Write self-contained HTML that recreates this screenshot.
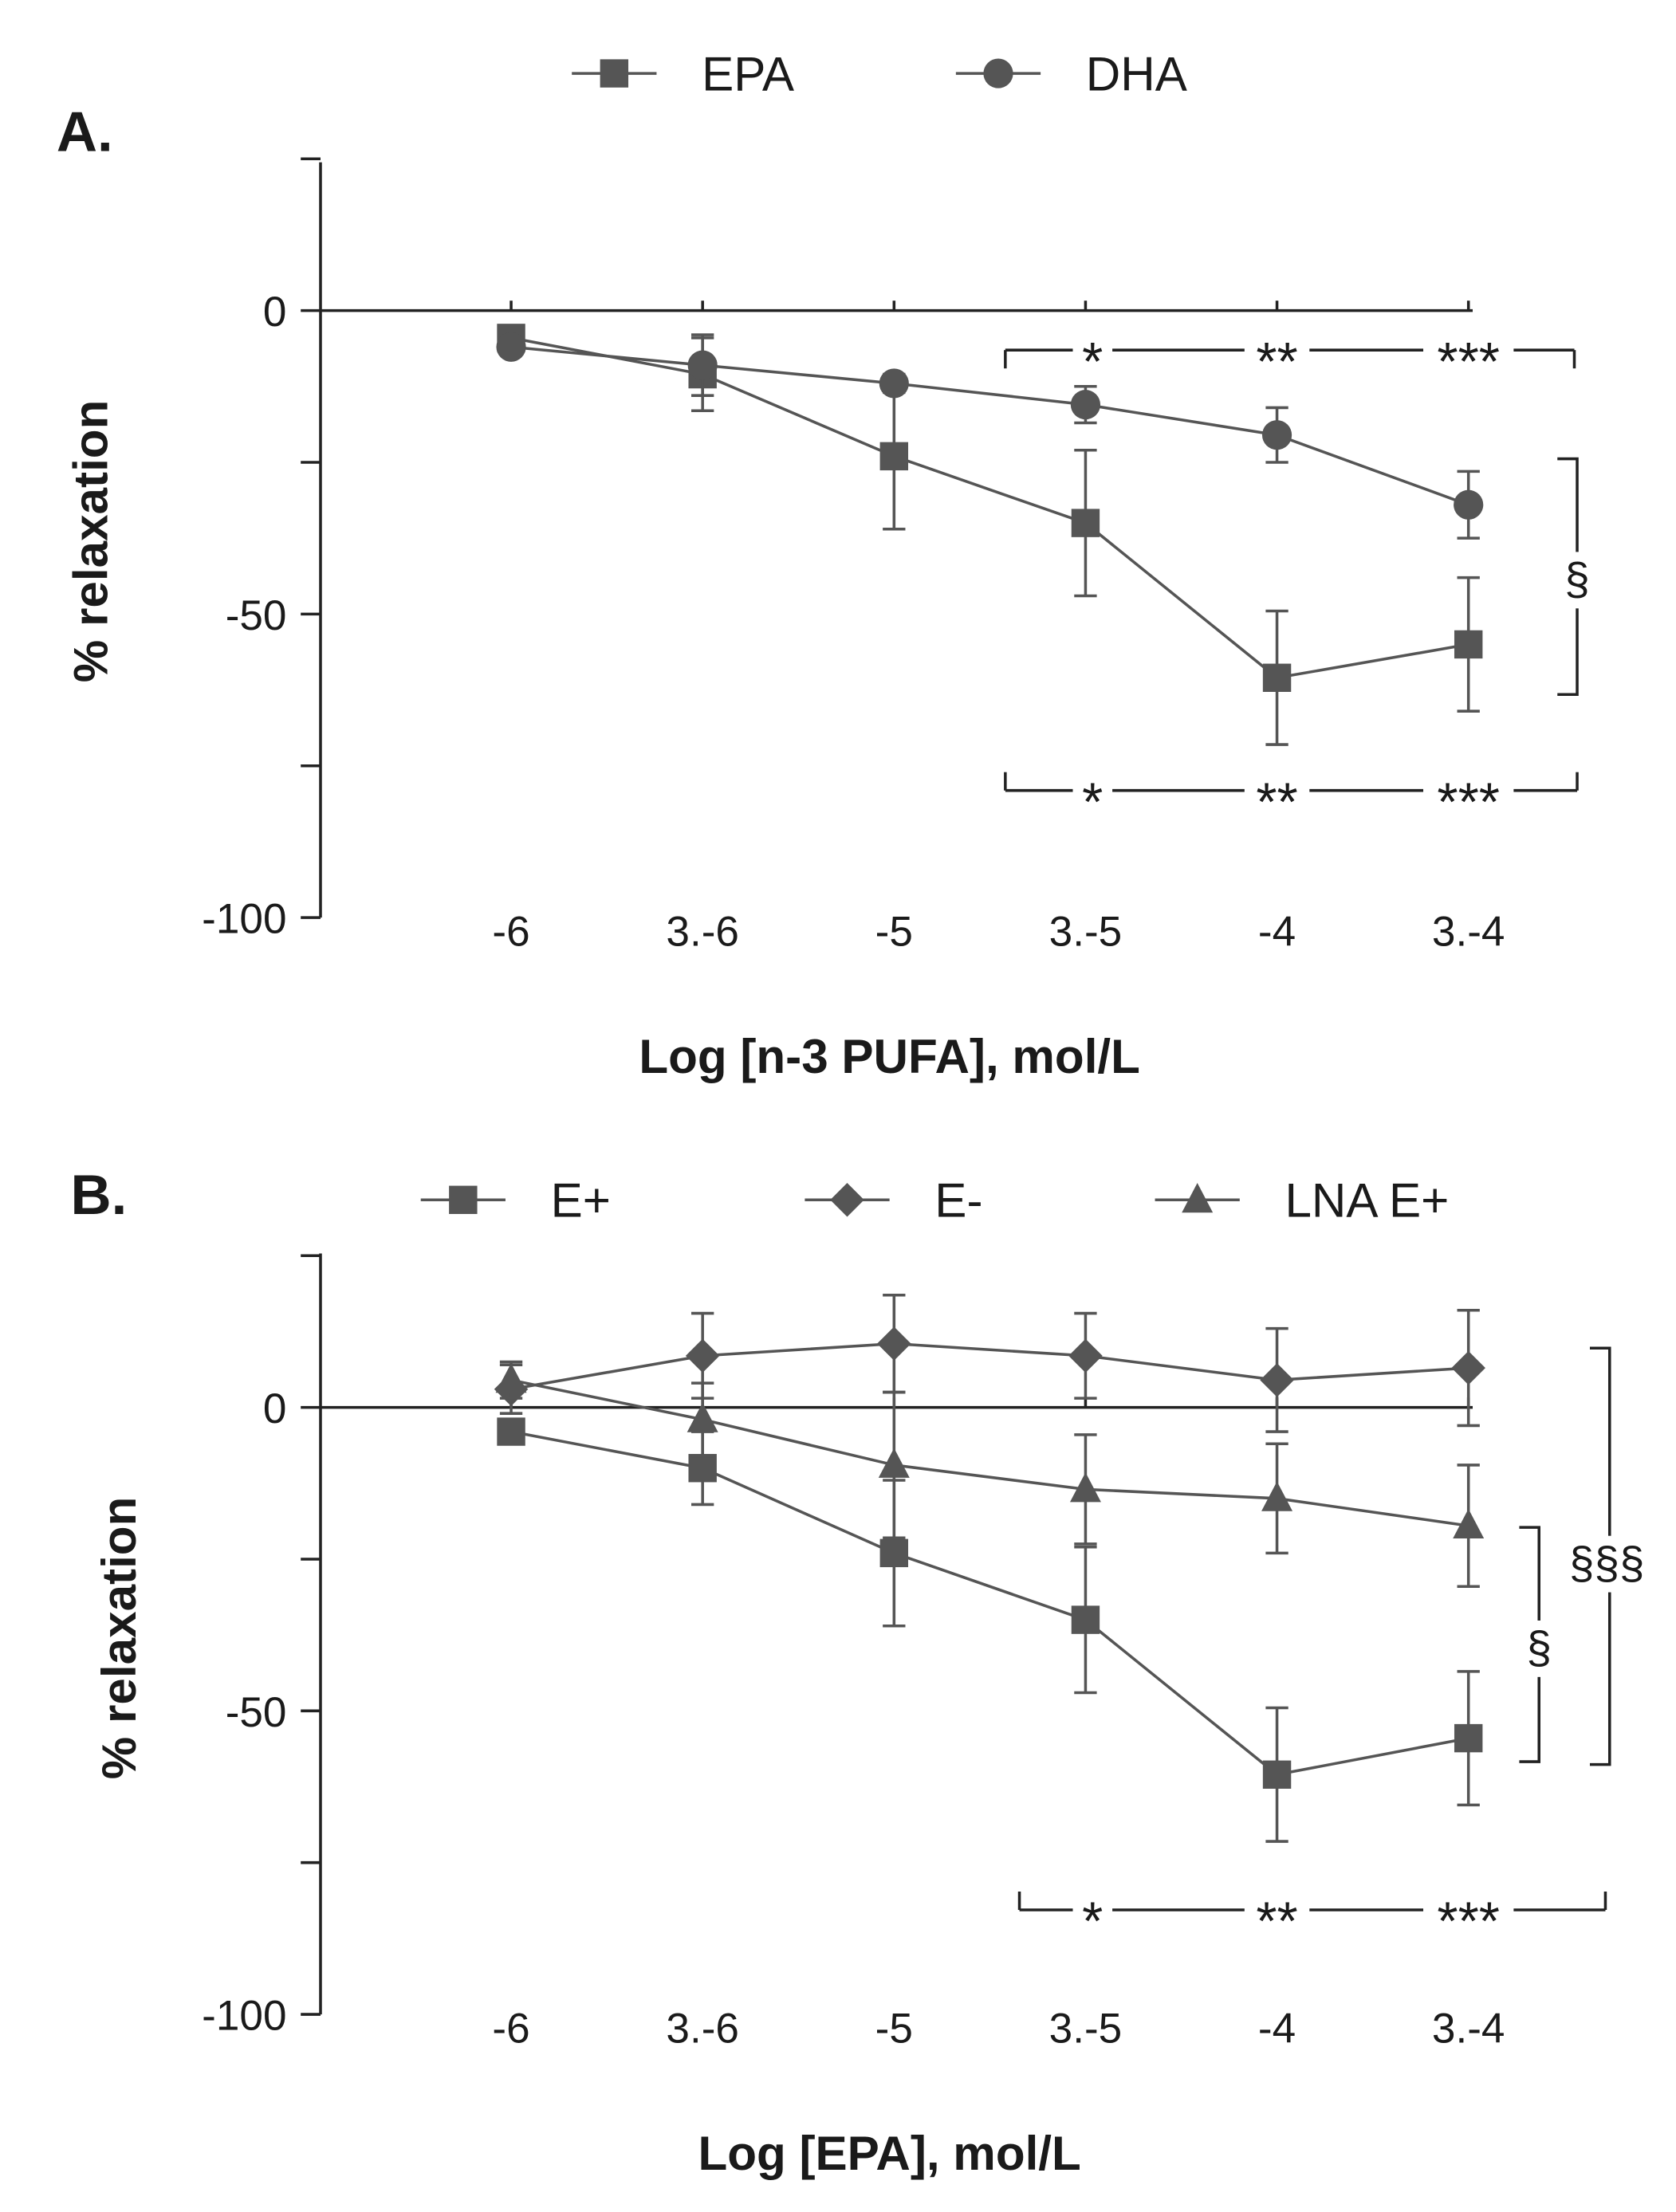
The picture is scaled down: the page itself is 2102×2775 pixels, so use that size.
<!DOCTYPE html>
<html><head><meta charset="utf-8"><style>
html,body{margin:0;padding:0;background:#fff}
svg{display:block}
text{font-family:"Liberation Sans","DejaVu Sans",sans-serif;fill:#1a1a1a}
.b{font-weight:bold}
</style></head><body>
<svg id="chart" width="2102" height="2775" viewBox="0 0 1187 1567" preserveAspectRatio="none" xmlns="http://www.w3.org/2000/svg">
<g id="root"></g>
</svg>
<script>
const categories = ["-6","3.-6","-5","3.-5","-4","3.-4"];
const yTicks = [0,-50,-100];
const epaA = [-4.5,-10.5,-24,-35,-60.5,-55];
const epaAErr = [1.5,6,12,12,11,11];
const dhaA = [-6,-9,-12,-15.5,-20.5,-32];
const dhaAErr = [1,5,1.5,3,4.5,5.5];
const ePlus = [-4,-10,-24,-35,-60.5,-54.5];
const ePlusErr = [1.5,6,12,12,11,11];
const eMinus = [3,8.5,10.5,8.5,4.5,6.5];
const eMinusErr = [4,7,8,7,8.5,9.5];
const lnaE = [4.5,-2,-9.5,-13.5,-15,-19.5];
const lnaEErr = [3,6,12,9,9,10];

const NS="http://www.w3.org/2000/svg";
const root=document.getElementById('root');
const C='#555';
function el(tag,attrs,parent){const e=document.createElementNS(NS,tag);for(const k in attrs)e.setAttribute(k,attrs[k]);(parent||root).appendChild(e);return e;}
function txt(x,y,s,size,anchor,cls,parent){const t=el('text',{x:x,y:y,'font-size':size,'text-anchor':anchor||'middle'},parent);if(cls)t.setAttribute('class',cls);t.textContent=s;return t;}
const xScale=i=>362+i*135.6;

function marker(type,x,y,g){
  if(type==='square') return el('rect',{x:x-10,y:y-10,width:20,height:20,fill:C},g);
  if(type==='circle') return el('circle',{cx:x,cy:y,r:10.5,fill:C},g);
  if(type==='diamond') return el('polygon',{points:`${x},${y-12} ${x+12},${y} ${x},${y+12} ${x-12},${y}`,fill:C},g);
  return el('polygon',{points:`${x},${y-12} ${x+11},${y+9} ${x-11},${y+9}`,fill:C},g);
}

function panel(name,y0,top,xTitle){
  const yS=v=>y0-v*4.3;
  const g=el('g',{});
  
  
  const ax=el('g',{},g);
  
  
  el('line',{x1:227,y1:top,x2:227,y2:yS(-100),stroke:'#222','stroke-width':2},ax);
  [25,0,-25,-50,-75,-100].forEach(v=>{el('line',{x1:213,y1:yS(v),x2:227,y2:yS(v),stroke:'#222','stroke-width':2},ax);});
  yTicks.forEach(v=>{txt(203,yS(v)+11,String(v),30,'end',null,ax);});
  const zl=el('line',{x1:227,y1:yS(0),x2:1043,y2:yS(0),stroke:'#222','stroke-width':2},g);
  
  
  const xa=el('g',{},g);
  
  
  categories.forEach((c,i)=>{el('line',{x1:xScale(i),y1:yS(0)-7,x2:xScale(i),y2:yS(0),stroke:'#222','stroke-width':2},xa);txt(xScale(i),yS(-100)+20,c,30,'middle',null,xa);});
  const yt=txt(0,0,'% relaxation',34,'middle','b',g);
  yt.setAttribute('transform',`translate(${name==='panel-a'?76:96},${yS(-38)}) rotate(-90)`);
  
  
  const xt=txt(630,yS(-100)+110,xTitle,34,'middle','b',g);
  
  
  return {g,yS};
}

function series(p,name,vals,errs,type){
  const g=el('g',{},p.g);
  
  
  el('polyline',{points:vals.map((v,i)=>xScale(i)+','+p.yS(v)).join(' '),fill:'none',stroke:C,'stroke-width':2},g);
  vals.forEach((v,i)=>{
    const x=xScale(i),a=p.yS(v+errs[i]),b=p.yS(v-errs[i]);
    el('line',{x1:x,y1:a,x2:x,y2:b,stroke:C,'stroke-width':2},g);
    el('line',{x1:x-8,y1:a,x2:x+8,y2:a,stroke:C,'stroke-width':2},g);
    el('line',{x1:x-8,y1:b,x2:x+8,y2:b,stroke:C,'stroke-width':2},g);
    marker(type,x,p.yS(v),g);
  });
}

function legend(x,y,label,type,name){
  const g=el('g',{});
  
  
  el('line',{x1:x,y1:y,x2:x+60,y2:y,stroke:C,'stroke-width':2},g);
  marker(type,x+30,y,g);
  txt(x+92,y+12,label,34,'start',null,g);
}

function starBracket(x1,x2,y,up,name){
  const g=el('g',{});
  
  
  const d=up?-13:13;
  const st=[{x:xScale(3)+5,s:'*'},{x:xScale(4),s:'**'},{x:xScale(5),s:'***'}];
  const w=[8,17,26];
  let pts=[x1];
  st.forEach((s,i)=>{pts.push(s.x-w[i]-6,s.x+w[i]+6);});
  pts.push(x2);
  for(let i=0;i<pts.length;i+=2) el('line',{x1:pts[i],y1:y,x2:pts[i+1],y2:y,stroke:'#222','stroke-width':2},g);
  el('line',{x1:x1,y1:y,x2:x1,y2:y+d,stroke:'#222','stroke-width':2},g);
  el('line',{x1:x2,y1:y,x2:x2,y2:y+d,stroke:'#222','stroke-width':2},g);
  st.forEach(s=>txt(s.x,y+21,s.s,38,'middle',null,g));
}
function vBracket(x,y1,y2,label,lx,ly,name){
  const g=el('g',{});
  
  
  el('polyline',{points:`${x-14},${y1} ${x},${y1} ${x},${y2} ${x-14},${y2}`,fill:'none',stroke:'#222','stroke-width':2},g);
  el('rect',{x:x-15,y:ly-30,width:30,height:40,fill:'#fff'},g);
  txt(lx,ly,label,32,'middle',null,g);
}

// Panel A
const pa=panel('panel-a',220,115,'Log [n-3 PUFA], mol/L');
let t=txt(40,107,'A.',40,'start','b');
legend(405,52,'EPA','square','legend-epa');
legend(677,52,'DHA','circle','legend-dha');
series(pa,'series-epa',epaA,epaAErr,'square');
series(pa,'series-dha',dhaA,dhaAErr,'circle');
starBracket(712,1115,248,false,'bracket-top-a');
starBracket(712,1117,560,true,'bracket-bottom-a');
vBracket(1117,325,492,'§',1117,421,'section-bracket-a');

// Panel B
const pb=panel('panel-b',997,888,'Log [EPA], mol/L');
t=txt(50,860,'B.',40,'start','b');
legend(298,850,'E+','square','legend-e-plus');
legend(570,850,'E-','diamond','legend-e-minus');
legend(818,850,'LNA E+','triangle','legend-lna-e-plus');
series(pb,'series-e-plus',ePlus,ePlusErr,'square');
series(pb,'series-e-minus',eMinus,eMinusErr,'diamond');
series(pb,'series-lna-e-plus',lnaE,lnaEErr,'triangle');
starBracket(722,1137,1353,true,'bracket-bottom-b');
vBracket(1090,1082,1248,'§',1090,1178,'section-bracket-b');
vBracket(1140,955,1250,'§§§',1138,1118,'triple-section-bracket-b');
</script>
</body></html>
